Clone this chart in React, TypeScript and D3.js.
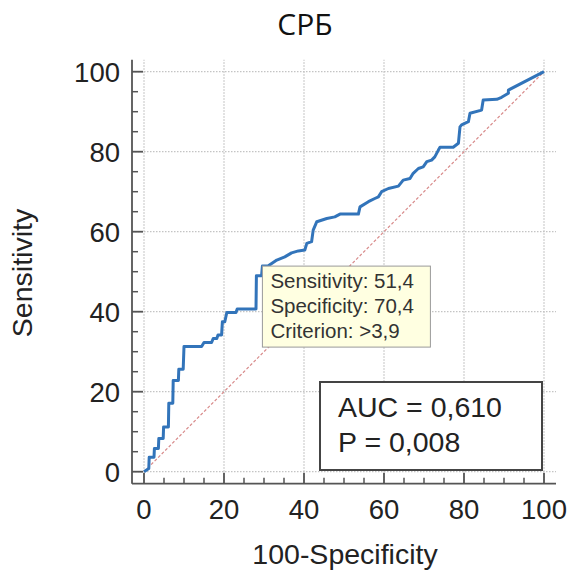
import React from "react";
import * as d3 from "d3";

const title = "СРБ";
const xLabel = "100-Specificity";
const yLabel = "Sensitivity";
const majorTicks = [0, 20, 40, 60, 80, 100];
const minorTicks = [5, 10, 15, 25, 30, 35, 45, 50, 55, 65, 70, 75, 85, 90, 95];

// ROC curve: 100-Specificity (x) and Sensitivity (y)
const fpr = [0, 1.2, 1.3, 2.5, 2.6, 3.6, 3.7, 4.8, 4.9, 6.1, 6.2, 7.2, 7.3, 8.6, 8.7, 9.8, 10.0, 14.4, 15.0, 16.9, 17.3, 18.2, 18.5, 19.4, 19.6, 20.2, 20.7, 23.0, 23.3, 28.0, 28.1, 29.4, 29.6, 31.0, 33.2, 35.2, 36.9, 38.6, 40.2, 40.7, 41.9, 42.3, 43.2, 45.7, 47.7, 49.0, 53.6, 54.0, 56.1, 57.7, 58.6, 59.4, 61.1, 63.6, 64.8, 66.5, 67.3, 68.6, 69.8, 70.7, 71.9, 72.7, 73.6, 74.0, 77.3, 78.6, 79.0, 79.4, 81.1, 81.5, 84.4, 84.8, 88.2, 89.4, 91.1, 91.1, 100];
const tpr = [0, 0.8, 3.6, 3.6, 5.8, 5.8, 8.3, 8.3, 11.2, 11.2, 17.1, 17.1, 22.8, 22.8, 25.6, 25.6, 31.3, 31.3, 32.3, 32.3, 33.3, 33.3, 34.2, 34.2, 37.5, 37.5, 39.8, 39.8, 40.7, 40.7, 49.0, 49.0, 51.4, 51.4, 52.9, 53.7, 54.7, 55.2, 55.4, 57.1, 57.5, 60.4, 62.5, 63.3, 63.7, 64.4, 64.4, 66.2, 67.5, 68.3, 68.7, 70.0, 70.8, 71.4, 72.9, 73.3, 74.6, 75.8, 76.2, 77.5, 77.9, 78.7, 80.4, 81.1, 81.1, 82.1, 86.2, 86.7, 87.5, 89.6, 90.4, 92.9, 93.1, 93.6, 94.6, 95.4, 100];

const cutoff = { sens: 51.4, spec: 70.4, crit: ">3,9" };
const tooltipLines = [`Sensitivity: 51,4`, `Specificity: 70,4`, `Criterion: >3,9`];
const statLines = ["AUC = 0,610", "P = 0,008"];

export default function App() {
  const W = 569, H = 574;
  const x = d3.scaleLinear().domain([0, 100]).range([144, 544]);
  const y = d3.scaleLinear().domain([0, 100]).range([471.7, 71.7]);
  const dom = [-3, 103];
  const font = "'Liberation Sans', Arial, sans-serif";
  const pts: [number, number][] = fpr.map((f, i) => [f, tpr[i]]);
  const line = d3.line<[number, number]>().x(d => x(d[0])).y(d => y(d[1]));
  const axisX = x(dom[0]);
  const axisY = y(dom[0]);
  const tx = x(100 - cutoff.spec);
  const ty = y(cutoff.sens);
  return (
    <svg width={W} height={H} style={{ position: "absolute", left: 0, top: 0, background: "#fff" }}>
      <rect x={0} y={0} width={W} height={H} fill="#fff" />
      <text x={305} y={35} textAnchor="middle" fontFamily="'Open Sans', sans-serif" fontSize={30} fill="#111">{title}</text>
      {/* grid */}
      {majorTicks.map(t => (
        <g key={"g" + t}>
          <line x1={x(t)} x2={x(t)} y1={y(dom[0])} y2={y(dom[1])} stroke="#c4c4c4" strokeWidth={1.3} strokeDasharray="1.5,1.5" />
          <line x1={x(dom[0])} x2={x(dom[1])} y1={y(t)} y2={y(t)} stroke="#c4c4c4" strokeWidth={1.3} strokeDasharray="1.5,1.5" />
        </g>
      ))}
      {/* diagonal */}
      <line x1={x(0)} y1={y(0)} x2={x(100)} y2={y(100)} stroke="#d88a8a" strokeWidth={1.2} strokeDasharray="3,2" />
      {/* ROC curve */}
      <path d={line(pts) || ""} fill="none" stroke="#3274ba" strokeWidth={3} strokeLinejoin="round" />
      {/* axes */}
      <line x1={axisX} x2={axisX} y1={y(dom[1])} y2={axisY} stroke="#555" strokeWidth={1.8} />
      <line x1={axisX} x2={x(dom[1])} y1={axisY} y2={axisY} stroke="#555" strokeWidth={1.8} />
      {majorTicks.map(t => (
        <g key={"t" + t}>
          <line x1={axisX} x2={axisX + 11} y1={y(t)} y2={y(t)} stroke="#555" strokeWidth={1.8} />
          <line x1={x(t)} x2={x(t)} y1={axisY} y2={axisY - 11} stroke="#555" strokeWidth={1.8} />
          <text x={120} y={y(t)} dy="0.36em" textAnchor="end" fontFamily={font} fontSize={27.5} fill="#222">{t}</text>
          <text x={x(t)} y={519} textAnchor="middle" fontFamily={font} fontSize={27.5} fill="#222">{t}</text>
        </g>
      ))}
      {minorTicks.map(t => (
        <g key={"m" + t}>
          <line x1={axisX} x2={axisX + 6} y1={y(t)} y2={y(t)} stroke="#555" strokeWidth={1.5} />
          <line x1={x(t)} x2={x(t)} y1={axisY} y2={axisY - 6} stroke="#555" strokeWidth={1.5} />
        </g>
      ))}
      <text x={345} y={564} textAnchor="middle" fontFamily={font} fontSize={28.5} fill="#222">{xLabel}</text>
      <text transform={`translate(32,${273}) rotate(-90)`} textAnchor="middle" fontFamily={font} fontSize={28.5} fill="#222">{yLabel}</text>
      {/* tooltip */}
      <rect x={tx} y={ty} width={168} height={81} fill="#ffffe1" stroke="#999" strokeWidth={1} />
      {tooltipLines.map((s, i) => (
        <text key={s} x={tx + 8} y={ty + 22 + i * 25} fontFamily={font} fontSize={20.5} fill="#333">{s}</text>
      ))}
      {/* AUC box */}
      <rect x={320} y={382} width={222} height={88} fill="#fff" stroke="#444" strokeWidth={2} />
      {statLines.map((s, i) => (
        <text key={s} x={338} y={417 + i * 35} fontFamily={font} fontSize={28.5} fill="#222">{s}</text>
      ))}
    </svg>
  );
}
